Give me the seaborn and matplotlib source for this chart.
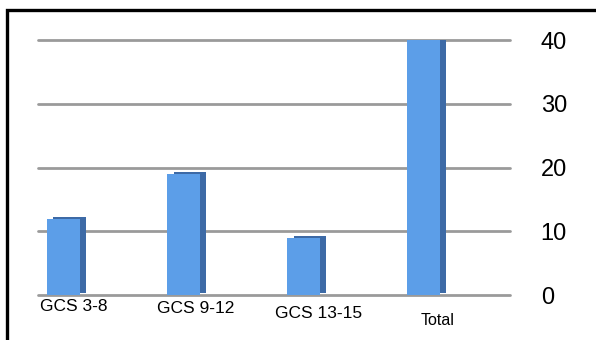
import matplotlib
matplotlib.use("Agg")
import matplotlib.pyplot as plt
import matplotlib.transforms as mtransforms
import seaborn as sns
import pandas as pd
from matplotlib.patches import Rectangle

# dados
categorias = ["GCS 3-8", "GCS 9-12", "GCS 13-15", "Total"]
valores = [12, 19, 9, 40]
yticks = [0, 10, 20, 30, 40]

df = pd.DataFrame({"grupo": categorias, "valor": valores})

sns.set_style("white")
plt.rcParams["font.family"] = ["Liberation Sans", "DejaVu Sans"]
plt.rcParams["xtick.color"] = "black"
plt.rcParams["ytick.color"] = "black"

fig = plt.figure(figsize=(5.96, 3.4), dpi=100)
ax = fig.add_axes([0.064, 0.132, 0.792, 0.75])

# barras
sns.barplot(data=df, x="grupo", y="valor", color="#5c9ee8", width=0.27,
            edgecolor="none", saturation=1, ax=ax, zorder=4)

# lateral escura (efeito 3D)
desloc = mtransforms.ScaledTranslation(4.5 / 72, 1.5 / 72, fig.dpi_scale_trans)
for p in list(ax.patches):
    sombra = Rectangle(p.get_xy(), p.get_width(), p.get_height(),
                       facecolor="#3d6aa6", edgecolor="none", zorder=3,
                       transform=ax.transData + desloc)
    ax.add_patch(sombra)

ax.set_ylim(0, 40)
ax.set_xlim(-0.21, 3.72)
ax.set_yticks(yticks)
ax.yaxis.tick_right()
ax.tick_params(axis="y", length=0, pad=22, labelsize=17, labelcolor="black")
ax.tick_params(axis="x", length=0, pad=3, labelsize=12.5, labelcolor="black")
ax.set_xlabel("")
ax.set_ylabel("")

# rótulos levemente deslocados como no original
offsets = [(10, 0), (12, -2), (15, -7), (14, -14)]
for lab, (dx, dy) in zip(ax.get_xticklabels(), offsets):
    lab.set_transform(lab.get_transform() +
                      mtransforms.ScaledTranslation(dx / 100, dy / 100, fig.dpi_scale_trans))
ax.get_xticklabels()[3].set_fontsize(11.5)

# grade
ax.grid(axis="y", color="#9a9a9a", linewidth=2, zorder=0)
for gl in ax.get_ygridlines():
    gl.set_clip_on(False)
ax.set_axisbelow(True)
for s in ax.spines.values():
    s.set_visible(False)

# moldura preta
fig.patches.append(Rectangle((0.011, -0.05), 1.2, 1.02, transform=fig.transFigure,
                             fill=False, edgecolor="black", linewidth=2.4))

fig.savefig("out.png", dpi=100)
